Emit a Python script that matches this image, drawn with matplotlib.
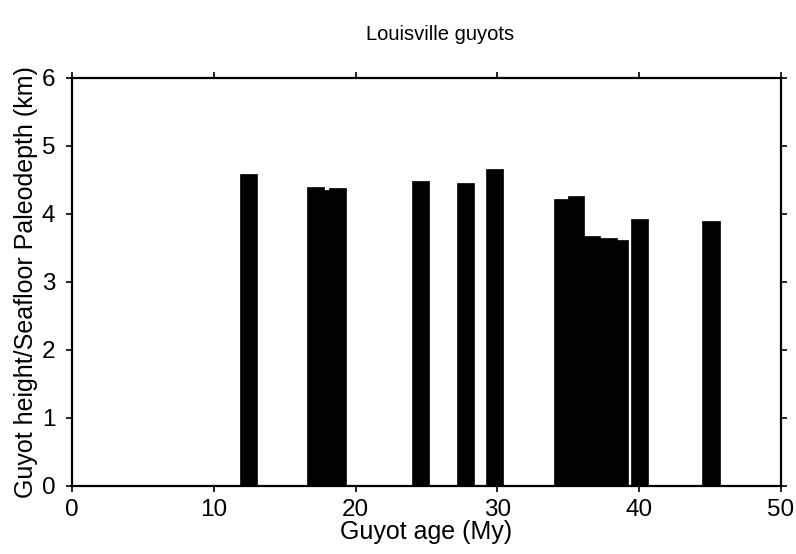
import matplotlib
matplotlib.use("Agg")
import matplotlib.pyplot as plt

# Guyot ages (My, bar centres), heights (km) and bar widths (My)
ages = [12.45, 17.2, 18.0, 18.72, 24.6, 27.76, 29.77,
        34.6, 35.54, 36.64, 37.8, 38.64, 40.05, 45.08]
heights = [4.59, 4.39, 4.36, 4.38, 4.49, 4.45, 4.66,
           4.22, 4.26, 3.68, 3.65, 3.62, 3.92, 3.90]
widths = [1.2, 1.2, 1.2, 1.2, 1.2, 1.2, 1.2,
          1.2, 1.18, 1.2, 1.2, 1.2, 1.2, 1.25]

title = "Louisville guyots"
xlabel = "Guyot age (My)"
ylabel = "Guyot height/Seafloor Paleodepth (km)"
xticks = [0, 10, 20, 30, 40, 50]
yticks = [0, 1, 2, 3, 4, 5, 6]

plt.rcParams['font.family'] = ['Liberation Sans', 'DejaVu Sans']

fig = plt.figure(figsize=(7.96, 5.54), dpi=100)
ax = fig.add_axes([72/796, 1-486/554, (781-72)/796, (486-78)/554])

ax.bar(ages, heights, width=widths, color='black', edgecolor='black',
       linewidth=0.5, align='center')

ax.set_xlim(0, 50)
ax.set_ylim(0, 6)
ax.set_xticks(xticks)
ax.set_yticks(yticks)
ax.tick_params(direction='out', length=4, width=1.2, top=True, right=True,
               labelsize=17.5, pad=8, colors='black')
ax.tick_params(axis='x', pad=5)
for s in ax.spines.values():
    s.set_linewidth(1.6)

ax.set_xlabel(xlabel, fontsize=18, labelpad=0)
ax.set_ylabel(ylabel, fontsize=18, labelpad=3)
fig.text(440/796, 1-35/554, title, fontsize=14.5, ha='center', va='center')

fig.savefig("out.png", dpi=100, facecolor='white')
